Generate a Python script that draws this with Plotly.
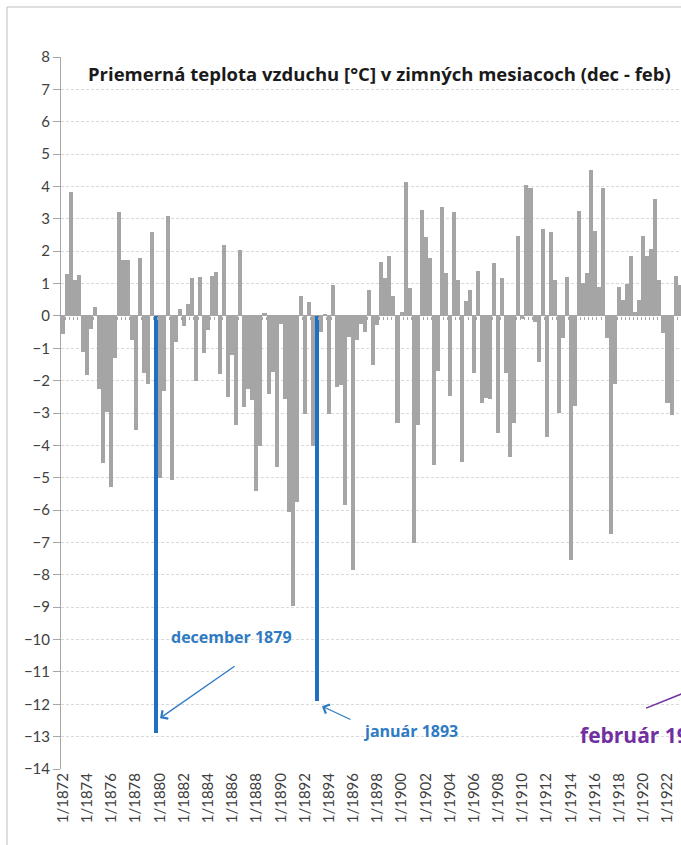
import plotly.graph_objects as go

# Monthly mean air temperature (deg C) in the winter months, Jan 1872 - Jan 1923
years = list(range(1872, 1924))

jan = [-0.55, 1.1, -1.83, -2.25, -5.3, 1.72, -3.54, -2.1, -5.0, -5.06,
       -0.3, -2.02, -0.42, -1.78, -1.21, -2.8, -5.4, -2.4, -0.25, -8.97,
       -3.02, -11.9, -3.02, -2.15, -7.85, -0.5, -0.27, 1.84, 0.11, -7.03,
       2.44, -1.7, -2.48, -4.5, -1.75, -2.53, -3.63, -4.36, -0.1, -0.18,
       -3.75, -3.0, -7.55, 1.02, 2.63, -0.68, 0.88, 1.85, 2.46, 3.62,
       -2.7, 0.97]

feb = [1.28, 1.25, -0.4, -4.55, -1.3, 1.72, 1.78, 2.58, -2.33, -0.82,
       0.36, 1.2, 1.22, 2.2, -3.37, -2.26, -4.03, -1.72, -2.57, -5.75,
       0.44, -0.5, 0.95, -5.83, -0.74, 0.8, 1.67, 0.62, 4.14, -3.36,
       1.8, 3.37, 3.22, 0.46, 1.38, -2.58, 1.16, -3.3, 4.05, -1.42,
       2.58, -0.68, -2.77, 1.32, 0.9, -6.73, 0.49, 0.12, 1.85, 1.1,
       -3.07]

dec = [3.83, -1.11, 0.27, -2.97, 3.21, -0.75, -1.77, -12.9, 3.1, 0.22,
       1.16, -1.16, 1.35, -2.5, 2.05, -2.61, 0.09, -4.66, -6.05, 0.62,
       -4.03, 0.07, -2.2, -0.66, -0.25, -1.52, 1.17, -3.3, 0.85, 3.28,
       -4.6, 1.33, 1.1, 0.8, -2.68, 1.62, -1.77, 2.48, 3.94, 2.69,
       1.11, 1.2, 3.24, 4.5, 3.94, -2.1, 1.0, 0.5, 2.08, -0.54,
       1.22]

highlighted = ["12/1879", "1/1893"]

# category labels "m/yyyy" in chronological order: Jan, Feb, Dec of each year
categories, temps = [], []
for k, y in enumerate(years):
    for m, series in ((1, jan), (2, feb), (12, dec)):
        if k < len(series):
            categories.append(f"{m}/{y}")
            temps.append(series[k])

tick_labels = categories[::6]

GRAY = "#A5A5A5"
BLUE = "#1F70C1"
TEXT_BLUE = "#2E7BC3"
PURPLE = "#7030A0"
AXIS = "#A6A6A6"
FONT = "Lato, 'Open Sans', sans-serif"
BOLD_FONT = "'Open Sans', Lato, sans-serif"

colors = [BLUE if c in highlighted else GRAY for c in categories]

x_range = [-0.5, 153.35]
y_range = [-14, 8]

fig = go.Figure()
fig.add_trace(go.Bar(
    x=categories, y=temps, marker=dict(color=colors, line=dict(width=0)),
    showlegend=False, hoverinfo="x+y",
))
# helper trace so the tick-mark axis along y=0 is rendered
fig.add_trace(go.Scatter(x=[None], y=[None], xaxis="x2", showlegend=False,
                         hoverinfo="skip"))

zero_pos = (0 - y_range[0]) / (y_range[1] - y_range[0])

fig.update_layout(
    width=681, height=845,
    margin=dict(l=61, r=0, t=57, b=76),
    paper_bgcolor="white", plot_bgcolor="white",
    bargap=0,
    font=dict(family=FONT, color="#404040", size=15),
    xaxis=dict(
        type="category", categoryorder="array", categoryarray=categories,
        range=x_range, tickmode="array", tickvals=tick_labels,
        ticktext=tick_labels, tickangle=-90, ticks="", showgrid=False,
        showline=False, zeroline=False, tickfont=dict(size=15, color="#404040"),
    ),
    xaxis2=dict(
        overlaying="x", anchor="free", position=zero_pos, side="bottom",
        range=x_range, showgrid=False, zeroline=False, showline=False,
        tickmode="array", tickvals=[i + 0.5 for i in range(len(categories))],
        ticks="outside", ticklen=3, tickwidth=1, tickcolor=AXIS,
        showticklabels=False,
    ),
    yaxis=dict(
        range=y_range, tickmode="array", tickvals=list(range(-14, 9)),
        showgrid=True, gridcolor="#D9D9D9", griddash="3px,2px", gridwidth=1,
        zeroline=True, zerolinecolor=AXIS, zerolinewidth=1,
        showline=True, linecolor=AXIS, linewidth=1,
        ticks="outside", ticklen=7, tickcolor=AXIS,
        tickfont=dict(size=15, color="#404040"),
    ),
)

# chart-area border
fig.add_shape(type="rect", xref="paper", yref="paper",
              x0=(7 - 61) / 620, x1=1.2, y0=-0.3, y1=(769 - 7) / 712,
              line=dict(color="#BFBFBF", width=1), fillcolor="rgba(0,0,0,0)",
              layer="below")

# title
fig.add_annotation(
    text="<b>Priemerná teplota vzduchu [°C] v zimných mesiacoch (dec - feb)</b>",
    xref="paper", yref="paper", x=(86 - 61) / 620, y=(769 - 73) / 712,
    xanchor="left", yanchor="middle", showarrow=False,
    font=dict(family=BOLD_FONT, size=18.5, color="#1A1A1A"),
)

i_dec = categories.index("12/1879")
i_jan = categories.index("1/1893")
i_feb29 = 3 * (1929 - 1872) + 1

# labels and arrows for the coldest months
fig.add_annotation(text="<b>december 1879</b>", x=41.9, y=-9.93,
                   xref="x2", yref="y", showarrow=False,
                   font=dict(family=BOLD_FONT, size=16, color=TEXT_BLUE))
fig.add_annotation(text="", x=i_dec + 1.07, y=temps[i_dec] + 0.47,
                   xref="x2", yref="y", ax=76, ay=-53,
                   showarrow=True, arrowhead=4, arrowsize=1.5, arrowwidth=1.3,
                   arrowcolor=TEXT_BLUE, standoff=0)

fig.add_annotation(text="<b>január 1893</b>", x=74.0, y=-12.84,
                   xref="x2", yref="y", xanchor="left", showarrow=False,
                   font=dict(family=BOLD_FONT, size=16, color=TEXT_BLUE))
fig.add_annotation(text="", x=i_jan + 1.26, y=temps[i_jan] - 0.16,
                   xref="x2", yref="y", ax=30, ay=14,
                   showarrow=True, arrowhead=4, arrowsize=1.5, arrowwidth=1.3,
                   arrowcolor=TEXT_BLUE, standoff=0)

fig.add_annotation(text="<b>február 1929</b>", x=127.7, y=-12.95,
                   xref="x2", yref="y", xanchor="left", showarrow=False,
                   font=dict(family=BOLD_FONT, size=21, color=PURPLE))
fig.add_shape(type="line", xref="x2", yref="y",
              x0=144.7, y0=-12.12, x1=i_feb29, y1=-10.75,
              line=dict(color=PURPLE, width=1.5))

fig.write_html("out.html")
